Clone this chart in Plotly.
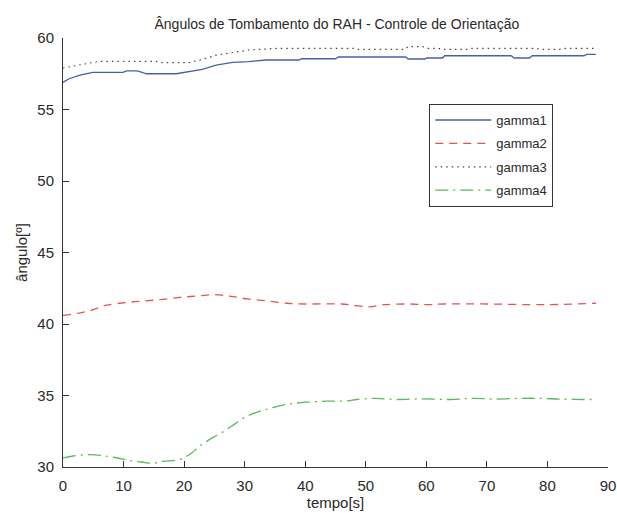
import plotly.graph_objects as go

# ---- data ----
t1 = [0, 1, 2.8, 4.9, 9.9, 10.5, 12.3, 13.8, 18.7, 20.8, 23, 25.3, 28, 30.7, 33.5, 39, 39.4, 45, 45.5,
      56.6, 57, 59.8, 60, 62.7, 63, 74, 74.5, 77, 77.5, 86, 86.5, 88]
gamma1 = [56.9, 57.15, 57.4, 57.6, 57.6, 57.7, 57.7, 57.5, 57.5, 57.65, 57.8, 58.1, 58.3, 58.35, 58.46, 58.46,
          58.55, 58.55, 58.67, 58.67, 58.53, 58.53, 58.6, 58.6, 58.76, 58.76, 58.6, 58.6, 58.76, 58.76, 58.86, 58.86]

t2 = [0, 2.5, 5, 7, 10.5, 13, 16, 19, 22, 25, 27.5, 30.5, 34, 37, 40, 46, 48, 50.5, 53, 57, 60, 63, 70, 80, 88]
gamma2 = [40.6, 40.75, 41.0, 41.3, 41.5, 41.6, 41.7, 41.85, 41.95, 42.05, 41.95, 41.75, 41.6, 41.45, 41.4,
          41.4, 41.3, 41.2, 41.35, 41.4, 41.35, 41.4, 41.4, 41.35, 41.45]

t3 = [0, 3.3, 6, 15.4, 16.4, 20.8, 23, 25.3, 28, 30.7, 35.6, 48, 48.8, 56.5, 57, 59.4, 60, 62, 62.5, 67,
      67.5, 78, 79, 82, 83, 88]
gamma3 = [57.9, 58.15, 58.37, 58.37, 58.28, 58.28, 58.5, 58.8, 59.0, 59.16, 59.28, 59.28, 59.2, 59.2, 59.4,
          59.4, 59.28, 59.28, 59.2, 59.2, 59.28, 59.28, 59.2, 59.2, 59.28, 59.28]

t4 = [0, 1.7, 4.5, 7, 9, 11, 13, 14.8, 16.5, 19, 20.4, 21.3, 22.5, 24.5, 26.6, 28.5, 30.4, 32.5, 34.2, 36.5,
      40, 43.5, 47, 48.5, 51.5, 55, 59.5, 64, 67.5, 71.5, 75.5, 79, 82, 86, 88]
gamma4 = [30.63, 30.77, 30.86, 30.77, 30.63, 30.45, 30.35, 30.26, 30.4, 30.5, 30.75, 31.0, 31.44, 32.0, 32.5,
          33.05, 33.56, 33.9, 34.1, 34.35, 34.53, 34.6, 34.62, 34.72, 34.8, 34.72, 34.77, 34.72, 34.8, 34.75,
          34.8, 34.8, 34.75, 34.72, 34.72]

x_ticks = [0, 10, 20, 30, 40, 50, 60, 70, 80, 90]
y_ticks = [30, 35, 40, 45, 50, 55, 60]

title = "Ângulos de Tombamento do RAH - Controle de Orientação"
x_title = "tempo[s]"
y_title = "ângulo[º]"

FONT = "Liberation Sans"
TXT = "#2a2a2a"

fig = go.Figure()
fig.add_trace(go.Scatter(x=t1, y=gamma1, mode="lines", name="gamma1", legendgroup="a",
                         line=dict(color="#4b5eaa", width=1.3)))
fig.add_trace(go.Scatter(x=t2, y=gamma2, mode="lines", name="gamma2", legendgroup="b",
                         line=dict(color="#e05555", width=1.3, dash="8px,6px", shape="spline")))
fig.add_trace(go.Scatter(x=t3, y=gamma3, mode="lines", name="gamma3", legendgroup="c",
                         line=dict(color="#444444", width=1.2, dash="1.5px,4px")))
fig.add_trace(go.Scatter(x=t4, y=gamma4, mode="lines", name="gamma4", legendgroup="d",
                         line=dict(color="#5cb85c", width=1.3, dash="13px,5px,2px,5px", shape="spline")))

axis_common = dict(ticks="inside", ticklen=6, tickwidth=1, tickcolor="#333333", automargin=False,
                   showline=True, linecolor="#333333", linewidth=1, mirror=False, showgrid=False,
                   zeroline=False, tickfont=dict(family=FONT, size=15, color=TXT))

fig.update_layout(
    width=617, height=513,
    margin=dict(l=63, r=9, t=38, b=46),
    paper_bgcolor="white", plot_bgcolor="white",
    font=dict(family=FONT, size=13, color=TXT),
    title=dict(text=title, x=0.546, xanchor="center", y=0.953, yanchor="middle",
               font=dict(family=FONT, size=14, color=TXT)),
    showlegend=True,
    legend=dict(x=0.672, y=0.846, xanchor="left", yanchor="top",
                bgcolor="white", bordercolor="#333333", borderwidth=1,
                font=dict(family=FONT, size=13, color=TXT),
                tracegroupgap=3.5, itemwidth=56),
    xaxis=dict(range=[0, 90], tickvals=x_ticks, ticklabelstandoff=5, ticklabeloverflow="allow",
               title=dict(text=x_title, standoff=3, font=dict(family=FONT, size=15, color=TXT)),
               **axis_common),
    yaxis=dict(range=[30, 60], tickvals=y_ticks, ticklabelstandoff=5,
               title=dict(text=y_title, standoff=6, font=dict(family=FONT, size=15, color=TXT)),
               **axis_common),
)

# remove the default page margin so the figure fills the window exactly
fig.write_html("out.html", config={"displayModeBar": False},
               post_script="document.body.style.margin='0';document.body.style.overflow='hidden';")
